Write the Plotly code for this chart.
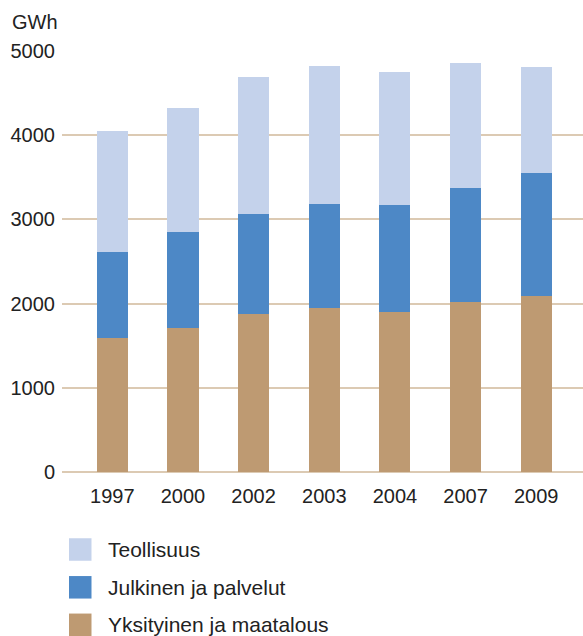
import plotly.graph_objects as go

years = ["1997", "2000", "2002", "2003", "2004", "2007", "2009"]
yksityinen = [1590, 1708, 1874, 1945, 1898, 2017, 2088]
julkinen = [1020, 1139, 1186, 1234, 1269, 1352, 1459]
teollisuus = [1435, 1471, 1628, 1639, 1580, 1485, 1259]
names = ["Yksityinen ja maatalous", "Julkinen ja palvelut", "Teollisuus"]
colors = ["#be9a72", "#4d88c6", "#c4d2eb"]
y_ticks = [0, 1000, 2000, 3000, 4000, 5000]

W, H = 583, 636
L, R, T, B = 62, 0, 51, 164
ph = H - T - B
pw = W - L - R
FONT = "Liberation Sans, Arial, sans-serif"
TXT = "#222222"
FS = 20

fig = go.Figure()
for vals, name, col in zip([yksityinen, julkinen, teollisuus], names, colors):
    fig.add_trace(go.Bar(x=years, y=vals, name=name, marker=dict(color=col, line=dict(width=0)),
                         showlegend=False))

fig.update_layout(
    width=W, height=H,
    margin=dict(l=L, r=R, t=T, b=B),
    barmode="stack", bargap=0.56,
    plot_bgcolor="white", paper_bgcolor="white",
    font=dict(family=FONT, size=FS, color=TXT),
    xaxis=dict(type="category", range=[-0.712, 6.662], showgrid=False, zeroline=False,
               showline=False, ticks="outside", ticklen=6, tickcolor="rgba(0,0,0,0)",
               tickfont=dict(size=FS, color=TXT)),
    yaxis=dict(range=[0, 5000], tickvals=y_ticks, showgrid=True, gridcolor="#dccab3",
               gridwidth=1.5, zeroline=True, zerolinecolor="#dccab3", zerolinewidth=1.5,
               showline=False, ticks="outside", ticklen=2, tickcolor="rgba(0,0,0,0)",
               tickfont=dict(size=FS, color=TXT)),
)

fig.add_annotation(text="GWh", xref="paper", yref="paper", x=(10 - L) / pw, y=(H - B - 22) / ph,
                   xanchor="left", yanchor="middle", showarrow=False, font=dict(size=FS, color=TXT))

# legend (top to bottom: Teollisuus, Julkinen, Yksityinen)
leg_centers = [549.5, 587.3, 624.8]
for i, (name, col) in enumerate(zip(names[::-1], colors[::-1])):
    cy = leg_centers[i]
    fig.add_shape(type="rect", xref="paper", yref="paper",
                  x0=(69 - L) / pw, x1=(91.5 - L) / pw,
                  y0=(H - B - (cy - 11.25)) / ph, y1=(H - B - (cy + 11.25)) / ph,
                  fillcolor=col, line=dict(width=0))
    fig.add_annotation(text=name, xref="paper", yref="paper", x=(106 - L) / pw, y=(H - B - cy) / ph,
                       xanchor="left", yanchor="middle", showarrow=False,
                       font=dict(size=21, color=TXT))

fig.write_html("out.html")
